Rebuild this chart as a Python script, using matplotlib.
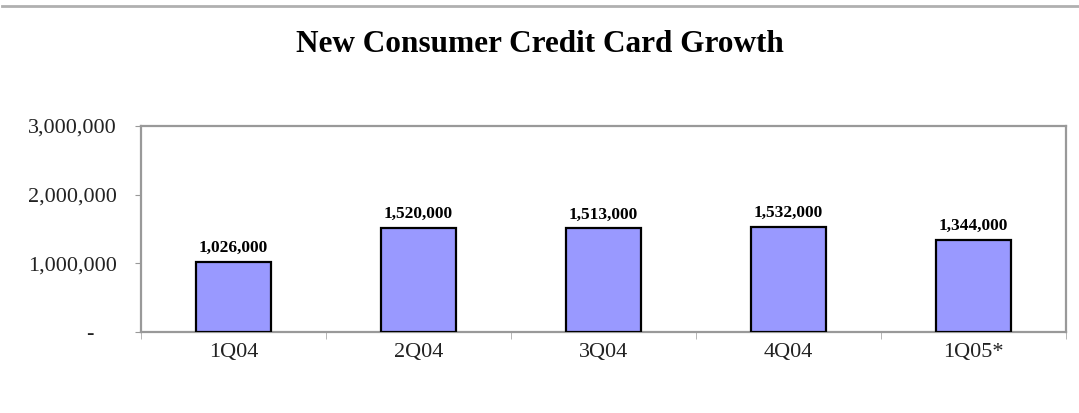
import matplotlib.pyplot as plt
import numpy as np
from matplotlib.ticker import FuncFormatter, FixedLocator

quarters = ["1Q04", "2Q04", "3Q04", "4Q04", "1Q05*"]
new_cards = [1026000, 1520000, 1513000, 1532000, 1344000]
y_ticks = [0, 1000000, 2000000, 3000000]

plt.rcParams['font.family'] = ['Liberation Serif', 'DejaVu Serif']

fig = plt.figure(figsize=(10.79, 4.13), dpi=100)
ax = fig.add_axes([141 / 1079, 1 - 332 / 413, (1066 - 141) / 1079, (332 - 126) / 413])

x = np.arange(len(quarters))
ax.bar(x, new_cards, width=0.405, color='#9999ff', edgecolor='black', linewidth=1.6, zorder=3)

for xi, v in zip(x, new_cards):
    ax.annotate(f"{v:,}", (xi, v), xytext=(0, 4), textcoords='offset points',
                ha='center', va='bottom', fontsize=12.5, fontweight='bold')

ax.set_xlim(-0.5, len(quarters) - 0.5)
ax.set_ylim(0, 3000000)
ax.set_yticks(y_ticks)
# zero shown as an accounting-style dash, set in from the right edge
ax.yaxis.set_major_formatter(FuncFormatter(lambda v, p: "-    " if v == 0 else f"{int(v):,}"))
ax.tick_params(axis='y', labelsize=16, length=4, color='#999999', pad=13.5, direction='out',
               labelcolor='#222222')

# category labels centred under bars, tick marks on category boundaries
ax.set_xticks(x)
ax.set_xticklabels(quarters)
ax.tick_params(axis='x', which='major', labelsize=16, length=0, pad=8, labelcolor='#222222')
ax.xaxis.set_minor_locator(FixedLocator(np.arange(-0.5, len(quarters), 1.0)))
ax.tick_params(axis='x', which='minor', length=5, color='#aaaaaa', direction='out')

for s in ax.spines.values():
    s.set_color('#999999')
    s.set_linewidth(1.6)

fig.text(540 / 1079, 1 - 44 / 413, "New Consumer Credit Card Growth", ha='center', va='center',
         fontsize=22.5, fontweight='bold')

# thin rule across the top
fig.add_artist(plt.Line2D([2 / 1079, 1.0], [1 - 6 / 413, 1 - 6 / 413], color='#b0b0b0', linewidth=2))

fig.savefig("out.png", dpi=100)
